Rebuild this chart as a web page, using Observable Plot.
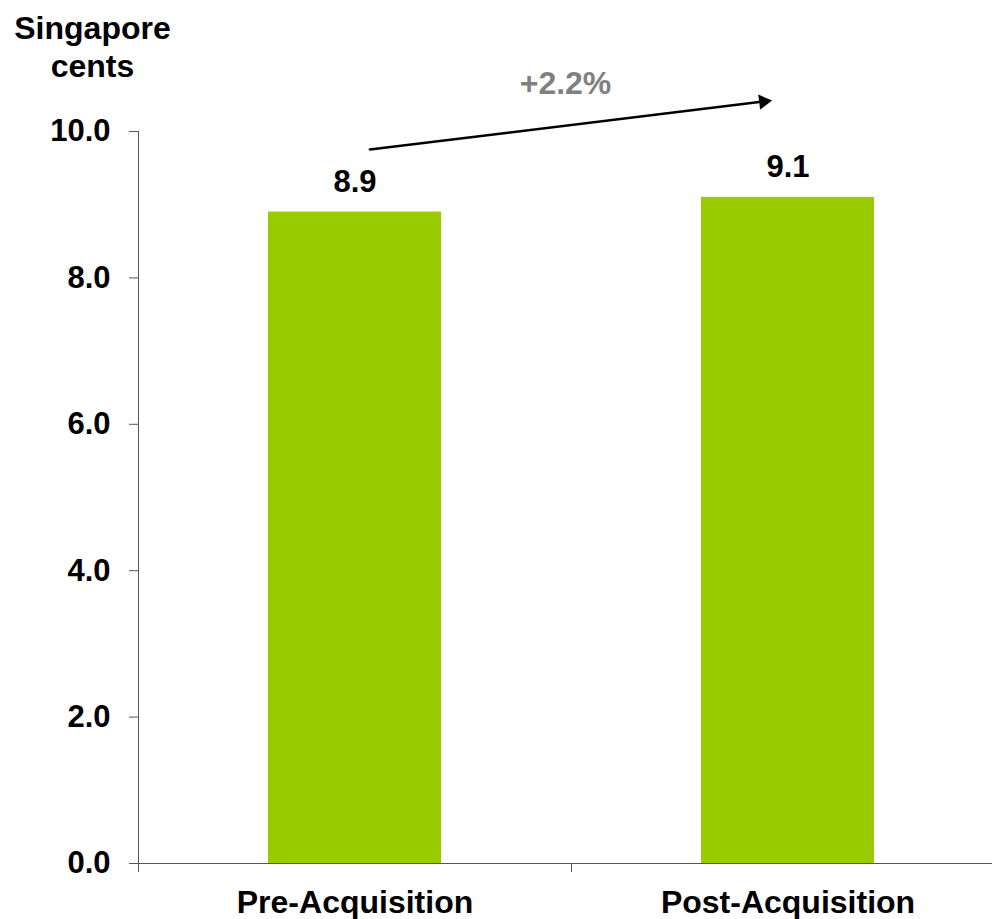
<!DOCTYPE html>
<html>
<head>
<meta charset="utf-8">
<script src="https://cdn.jsdelivr.net/npm/d3@7"></script>
<script src="https://cdn.jsdelivr.net/npm/@observablehq/plot@0.6"></script>
<style>
  html, body { margin: 0; padding: 0; background: #fff; }
</style>
</head>
<body>
<div id="chart"></div>
<script>
// Distribution per unit, before and after the acquisition
const categories = ["Pre-Acquisition", "Post-Acquisition"];
const values = [8.9, 9.1];
const yTicks = [0, 2, 4, 6, 8, 10];
const unitLabel = "Singapore\ncents";
const changeLabel = "+2.2%";
// growth arrow end heights (in axis units)
const arrowStart = 9.73;
const arrowEnd = 10.45;

const data = categories.map((c, i) => ({category: c, value: values[i]}));
const arrowData = [{from: categories[0], to: categories[1], y1: arrowStart, y2: arrowEnd}];

const font = "'Liberation Sans', Arial, Helvetica, sans-serif";
const axisColor = "#555";
const xRange = [138, 1004];
const halfStep = (xRange[1] - xRange[0]) / categories.length / 2;

const chart = Plot.plot({
  width: 992,
  height: 919,
  marginLeft: 138,
  marginRight: 0,
  marginTop: 131,
  marginBottom: 56,
  style: {fontFamily: font, fontWeight: "bold", color: "#000", background: "#fff"},
  x: {domain: categories, range: xRange, paddingInner: 0.6, paddingOuter: 0.3, axis: null},
  y: {domain: [0, 10], axis: null},
  marks: [
    Plot.barY(data, {x: "category", y: "value", fill: "#99CC00"}),
    // value axis
    Plot.axisY({ticks: yTicks, tickSize: 9, tickPadding: 19, tickFormat: d3.format(".1f"),
      fontSize: 31, label: null, stroke: axisColor, fill: "#000"}),
    Plot.ruleX([categories[0]], {x: d => d, y1: 0, y2: 10, dx: -halfStep, stroke: axisColor}),
    // category axis: baseline, boundary ticks and labels
    Plot.ruleY([0], {stroke: axisColor}),
    Plot.ruleX(categories, {x: d => d, y1: 0, y2: 0, dx: -halfStep, insetBottom: -9, stroke: axisColor}),
    Plot.axisX({tickSize: 0, tickPadding: 27, fontSize: 32, label: null, fill: "#000"}),
    // value labels
    Plot.text(data, {x: "category", y: "value", text: d => d.value.toFixed(1), dy: -30,
      fontSize: 31, fill: "#000"}),
    // growth arrow
    Plot.arrow(arrowData, {x1: "from", x2: "to", y1: "y1", y2: "y2", insetStart: 15, insetEnd: 29,
      headLength: 0, stroke: "#000", strokeWidth: 2.5}),
    Plot.dot(arrowData, {x: "to", y: "y2", symbol: "triangle", r: 5.6, rotate: 83,
      dx: -24.5, dy: 3, fill: "#000", stroke: "none"}),
    Plot.text([changeLabel], {frameAnchor: "top", lineAnchor: "middle", dy: -48, fontSize: 32,
      fill: "#808080"}),
    // unit label
    Plot.text([unitLabel], {frameAnchor: "top-left", lineAnchor: "middle", dx: -46, dy: -86,
      fontSize: 32, lineHeight: 1.19, textAnchor: "middle", fill: "#000"})
  ]
});

document.getElementById("chart").append(chart);
</script>
</body>
</html>
